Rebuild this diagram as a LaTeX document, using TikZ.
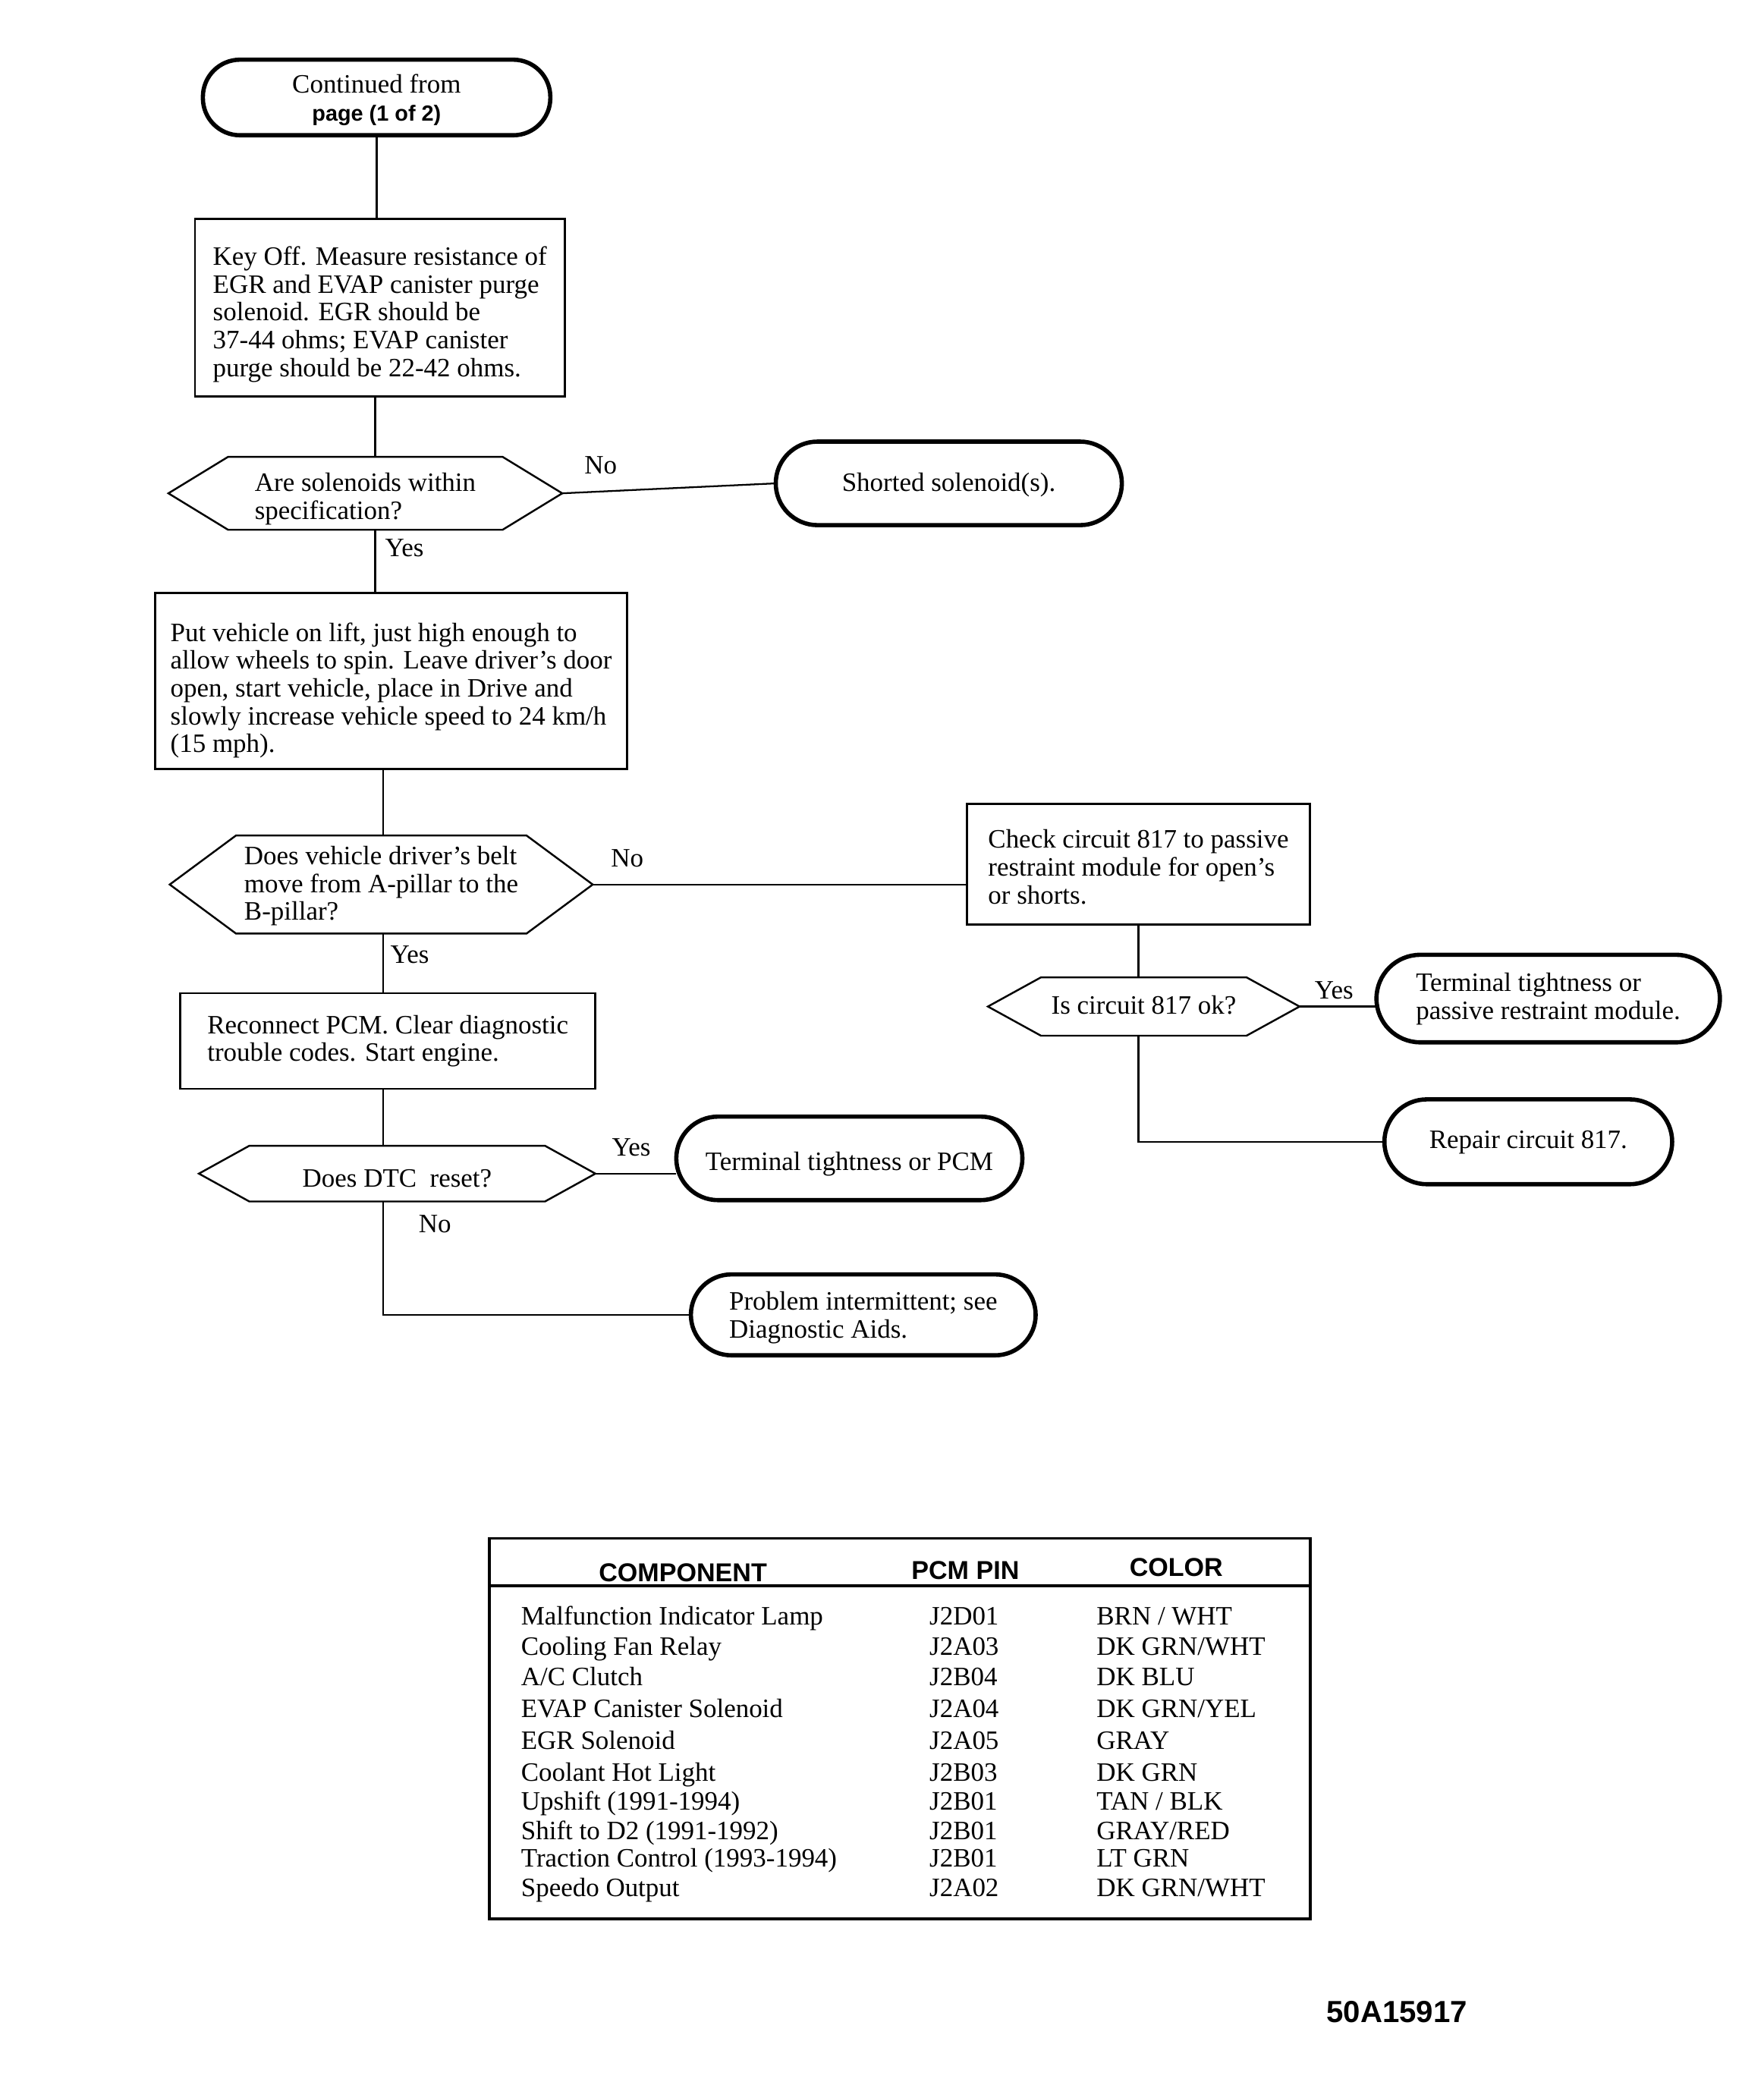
\documentclass[tikz,border=0pt]{standalone}
\usepackage{fontspec}
\setmainfont{Liberation Serif}
\newfontfamily\hsans{Liberation Sans}
\newcommand{\hexdraw}[2]{%
  \draw[hexline] (#1.west) -- ([xshift=#2pt]#1.north west) -- ([xshift=-#2pt]#1.north east)
    -- (#1.east) -- ([xshift=-#2pt]#1.south east) -- ([xshift=#2pt]#1.south west) -- cycle;}
\newcommand{\tabrow}[5]{%
  \node[celltxt] (c#1) at (393,#2) {#3};
  \node[celltxt] (p#1) at (701,#2) {#4};
  \node[celltxt] (k#1) at (827,#2) {#5};}
\newcommand{\topstrut}[1]{\rule{0pt}{#1pt}}
\tikzset{
  base/.style={font=\fontsize{20}{21}\selectfont, inner sep=0pt, outer sep=0pt},
  procbox/.style={base, draw, line width=1.6pt, align=left, text depth=-3pt},
  termoval/.style={base, draw, line width=3.2pt, align=center, rounded corners=#1, text depth=-2pt},
  hexnode/.style={base, align=left, text depth=-2pt},
  hexline/.style={line width=1.4pt},
  link/.style={line width=1.3pt},
  lbl/.style={base},
  celltxt/.style={base, anchor=base west},
  hdrtxt/.style={inner sep=0pt, font=\hsans\bfseries\fontsize{19.5}{20}\selectfont},
}
\begin{document}
\begin{tikzpicture}[x=1pt,y=-1pt]
\useasboundingbox (0,0) rectangle (1330,1570);
\coordinate (colA) at (283,0);
\coordinate (colB) at (289,0);

% nodes of the flowchart
\node[termoval=28pt, minimum width=262pt, minimum height=57pt] (start) at (284,73.5)
  {Continued from\\{\hsans\bfseries\fontsize{16.5}{18}\selectfont page (1 of 2)}};
\node[procbox, minimum width=279pt, minimum height=134pt, text depth=-5pt] (box1) at (286.5,232)
  {\topstrut{20}Key Off. Measure resistance of\\EGR and EVAP canister purge\\solenoid. EGR should be\\37-44 ohms; EVAP canister\\purge should be 22-42 ohms.};
\node[hexnode, minimum width=297pt, minimum height=55pt, text depth=-3pt] (hx1) at (275.5,372)
  {\topstrut{18}Are solenoids within\\specification?};
\hexdraw{hx1}{45}
\node[termoval=31.5pt, minimum width=261pt, minimum height=63pt, text depth=2pt] (short) at (715.5,364.5)
  {Shorted solenoid(s).};
\node[procbox, minimum width=356pt, minimum height=133pt, text depth=-9pt] (put) at (295,513.5)
  {\topstrut{24}Put vehicle on lift, just high enough to\\allow wheels to spin. Leave driver's door\\open, start vehicle, place in Drive and\\slowly increase vehicle speed to 24 km/h\\(15 mph).};
\node[hexnode, minimum width=319pt, minimum height=74pt, text depth=2pt] (hx2) at (287.5,667)
  {Does vehicle driver's belt\\move from A-pillar to the\\B-pillar?};
\hexdraw{hx2}{50}
\node[procbox, minimum width=259pt, minimum height=91pt, text depth=-3pt] (check) at (858.5,651.5)
  {\topstrut{18}Check circuit 817 to passive\\restraint module for open's\\or shorts.};
\node[hexnode, minimum width=235pt, minimum height=44pt, text depth=3pt] (hx3) at (862.5,759)
  {Is circuit 817 ok?};
\hexdraw{hx3}{40}
\node[termoval=33pt, minimum width=259pt, minimum height=66pt, align=left, text depth=4pt] (tp) at (1167.5,753)
  {Terminal tightness or\\passive restraint module.};
\node[termoval=32pt, minimum width=217pt, minimum height=64pt, text depth=3pt] (rep) at (1152.5,861)
  {Repair circuit 817.};
\node[procbox, minimum width=313pt, minimum height=72pt, text depth=4pt] (rec) at (292.5,785)
  {Reconnect PCM. Clear diagnostic\\trouble codes. Start engine.};
\node[hexnode, minimum width=299pt, minimum height=42pt, text depth=-4pt] (hx4) at (299.5,885)
  {\topstrut{20}Does DTC~ reset?};
\hexdraw{hx4}{38}
\node[termoval=31.5pt, minimum width=261pt, minimum height=63pt, text depth=-4pt] (tpcm) at (640.5,873.5)
  {\topstrut{18}Terminal tightness or PCM};
\node[termoval=30.5pt, minimum width=260pt, minimum height=61pt, align=left, text depth=-2pt] (prob) at (651,991.5)
  {Problem intermittent; see\\Diagnostic Aids.};

% connectors
\draw[link] (start.south) -- (start.south |- box1.north);
\draw[link] (box1.south -| colA) -- (hx1.north -| colA);
\draw[link] (hx1.south -| colA) -- (put.north -| colA);
\draw[link] (put.south -| colB) -- (hx2.north -| colB);
\draw[link] (hx2.south -| colB) -- (rec.north -| colB);
\draw[link] (rec.south -| colB) -- (hx4.north -| colB);
\draw[link] (hx4.south -| colB) |- (prob.west);
\draw[link] (hx1.east) -- (short.west);
\draw[link] (hx2.east) -- (hx2.east -| check.west);
\draw[link] (check.south) -- (check.south |- hx3.north);
\draw[link] (hx3.east) -- (hx3.east -| tp.west);
\draw[link] (hx3.south -| check.south) |- (rep.west);
\draw[link] (hx4.east) -- (hx4.east -| tpcm.west);

% connector labels
\node[lbl] (l1) at (453,351) {No};
\node[lbl] (l2) at (305,413) {Yes};
\node[lbl] (l3) at (473,647) {No};
\node[lbl] (l4) at (309,720) {Yes};
\node[lbl] (l5) at (1006,747) {Yes};
\node[lbl] (l6) at (476,865) {Yes};
\node[lbl] (l7) at (328,923) {No};

% table
\node[draw, line width=2.2pt, minimum width=619pt, minimum height=287pt, inner sep=0pt, outer sep=0pt] (tbl) at (678.5,1303.5) {};
\coordinate (hdr) at (0,1196);
\draw[line width=2.2pt] (tbl.west |- hdr) -- (tbl.east |- hdr);
\node[hdrtxt] (hc) at (515,1186) {COMPONENT};
\node[hdrtxt] (hp) at (728,1184) {PCM PIN};
\node[hdrtxt] (hk) at (887,1182) {COLOR};
\tabrow{1}{1225}{Malfunction Indicator Lamp}{J2D01}{BRN / WHT}
\tabrow{2}{1248}{Cooling Fan Relay}{J2A03}{DK GRN/WHT}
\tabrow{3}{1271}{A/C Clutch}{J2B04}{DK BLU}
\tabrow{4}{1295}{EVAP Canister Solenoid}{J2A04}{DK GRN/YEL}
\tabrow{5}{1319}{EGR Solenoid}{J2A05}{GRAY}
\tabrow{6}{1343}{Coolant Hot Light}{J2B03}{DK GRN}
\tabrow{7}{1365}{Upshift (1991-1994)}{J2B01}{TAN / BLK}
\tabrow{8}{1387}{Shift to D2 (1991-1992)}{J2B01}{GRAY/RED}
\tabrow{9}{1408}{Traction Control (1993-1994)}{J2B01}{LT GRN}
\tabrow{10}{1430}{Speedo Output}{J2A02}{DK GRN/WHT}

\node[inner sep=0pt, font=\hsans\bfseries\fontsize{23}{24}\selectfont] (code) at (1053.5,1517) {50A15917};
\end{tikzpicture}
\end{document}
